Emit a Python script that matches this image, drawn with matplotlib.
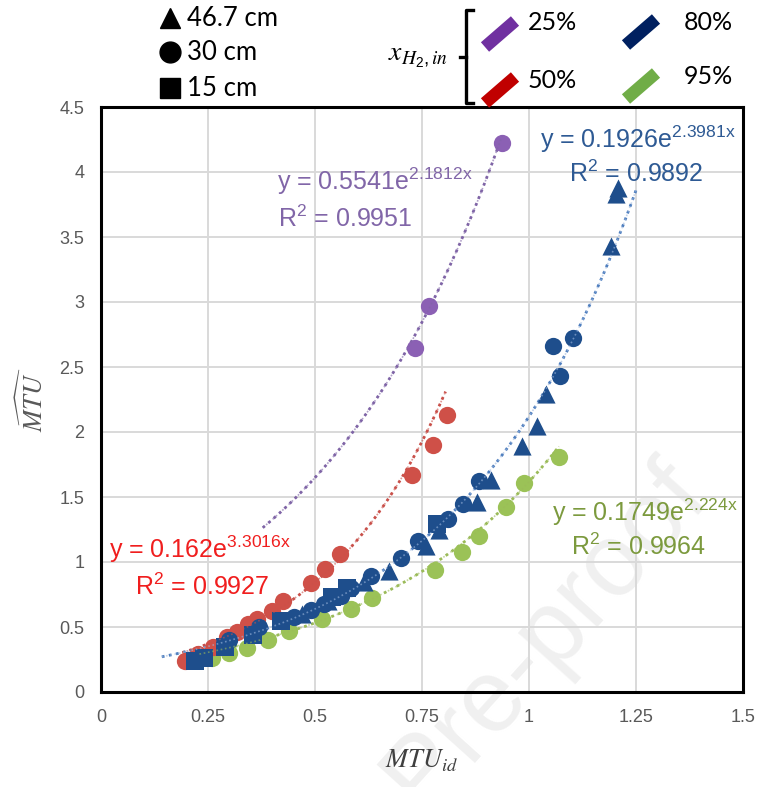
import numpy as np
import matplotlib
matplotlib.use("Agg")
import matplotlib.pyplot as plt
from matplotlib.lines import Line2D

plt.rcParams['font.family'] = ['Liberation Sans', 'DejaVu Sans']
plt.rcParams['mathtext.default'] = 'regular'
plt.rcParams['mathtext.fontset'] = 'stix'

# ==========================================
# data
# ==========================================
# 25 % H2, circles (30 cm)
p25_x = [0.734, 0.766, 0.937]
p25_y = [2.65, 2.97, 4.22]

# 50 % H2, circles
p50_x = [0.196, 0.227, 0.262, 0.294, 0.318, 0.343, 0.364, 0.400, 0.425, 0.491, 0.523, 0.558, 0.727, 0.776, 0.808]
p50_y = [0.24, 0.29, 0.35, 0.42, 0.46, 0.52, 0.56, 0.62, 0.70, 0.84, 0.95, 1.06, 1.67, 1.90, 2.13]

# 80 % H2, three heights
p80_sq_x = [0.22, 0.24, 0.29, 0.355, 0.42, 0.54, 0.575, 0.785]
p80_sq_y = [0.24, 0.26, 0.35, 0.44, 0.55, 0.73, 0.80, 1.29]
p80_ci_x = [0.30, 0.37, 0.45, 0.49, 0.52, 0.56, 0.585, 0.63, 0.70, 0.74, 0.81, 0.846, 0.883, 1.056, 1.072, 1.103]
p80_ci_y = [0.40, 0.50, 0.58, 0.63, 0.68, 0.74, 0.80, 0.89, 1.03, 1.16, 1.33, 1.45, 1.62, 2.66, 2.43, 2.72]
p80_tr_x = [0.47, 0.53, 0.615, 0.672, 0.76, 0.79, 0.879, 0.911, 0.984, 1.019, 1.040, 1.192, 1.203, 1.208]
p80_tr_y = [0.60, 0.70, 0.85, 0.93, 1.12, 1.25, 1.46, 1.63, 1.89, 2.05, 2.29, 3.43, 3.83, 3.88]

# 95 % H2, circles
p95_x = [0.26, 0.30, 0.34, 0.39, 0.44, 0.516, 0.583, 0.633, 0.780, 0.843, 0.883, 0.946, 0.988, 1.07]
p95_y = [0.26, 0.30, 0.34, 0.40, 0.47, 0.56, 0.64, 0.72, 0.94, 1.08, 1.20, 1.42, 1.61, 1.81]

# exponential trend lines y = a*exp(b*x), shown in the chart
fits = {
    '25': (0.5541, 2.1812, 0.378, 0.937),
    '50': (0.162, 3.3016, 0.19, 0.805),
    '80': (0.1926, 2.3981, 0.142, 1.252),
    '95': (0.1749, 2.224, 0.23, 1.07),
}
r2 = {'25': '0.9951', '50': '0.9927', '80': '0.9892', '95': '0.9964'}

pt_col = {'25': '#8B60B4', '50': '#CF5048', '80': '#1E4E8C', '95': '#9BC257'}
ln_col = {'25': '#7F64A6', '50': '#C9504A', '80': '#4F7FBF', '95': '#9BBB59'}
tx_col = {'25': '#8166A8', '50': '#F01E1E', '80': '#2E5A94', '95': '#7C9A3E'}

# ==========================================
# figure
# ==========================================
W, H = 760, 787
fig = plt.figure(figsize=(7.6, 7.87), dpi=100)
ax = fig.add_axes([101 / W, 95 / H, 642 / W, 585 / H])
ax.patch.set_alpha(0)
ax.set_zorder(1)

# faint watermark behind the plot
fig.text(712 / W, 1 - 500 / H, 'Journal Pre-proof', fontsize=74, color='#F0F0F0',
         rotation=48, rotation_mode='anchor', ha='right', va='baseline', zorder=0)

ax.set_xlim(0, 1.5)
ax.set_ylim(0, 4.5)
ax.set_xticks(np.arange(0, 1.51, 0.25))
ax.set_yticks(np.arange(0, 4.51, 0.5))
ax.set_xticklabels(['0', '0.25', '0.5', '0.75', '1', '1.25', '1.5'])
ax.set_yticklabels(['0', '0.5', '1', '1.5', '2', '2.5', '3', '3.5', '4', '4.5'])
ax.tick_params(length=0, labelsize=13, labelcolor='#595959', pad=12)
ax.grid(True, color='#D9D9D9', lw=1.4)
ax.set_axisbelow(True)
for s in ax.spines.values():
    s.set_linewidth(2.2)
    s.set_color('black')

# trend lines
for k, (a, b, x0, x1) in fits.items():
    xx = np.linspace(x0, x1, 200)
    ax.plot(xx, a * np.exp(b * xx), ls=(0, (1, 1.6)), lw=2.0, color=ln_col[k], zorder=2)

ms = 155
ax.scatter(p25_x, p25_y, s=ms, marker='o', color=pt_col['25'], zorder=3, lw=0)
ax.scatter(p95_x, p95_y, s=ms, marker='o', color=pt_col['95'], zorder=3, lw=0)
ax.scatter(p50_x, p50_y, s=ms, marker='o', color=pt_col['50'], zorder=3, lw=0)
ax.scatter(p80_sq_x, p80_sq_y, s=ms, marker='s', color=pt_col['80'], zorder=3, lw=0)
ax.scatter(p80_ci_x, p80_ci_y, s=ms, marker='o', color=pt_col['80'], zorder=3, lw=0)
ax.scatter(p80_tr_x, p80_tr_y, s=ms * 1.1, marker='^', color=pt_col['80'], zorder=3, lw=0)
# dotted fit shows faintly over the markers, as in the source
for k, (a, b, x0, x1) in fits.items():
    xx = np.linspace(x0, x1, 200)
    ax.plot(xx, a * np.exp(b * xx), ls=(0, (1, 1.6)), lw=1.2, color='#9DB7DD' if k == '80' else ln_col[k],
            alpha=0.6, zorder=4)

# equation labels
eq_pos = {
    '25': ((0.64, 3.93), (0.57, 3.64)),
    '50': ((0.232, 1.10), (0.236, 0.81)),
    '80': ((1.255, 4.25), (1.25, 3.99)),
    '95': ((1.27, 1.38), (1.257, 1.12)),
}
exp_txt = {'25': '2.1812x', '50': '3.3016x', '80': '2.3981x', '95': '2.224x'}
for k, ((ex, ey), (rx, ry)) in eq_pos.items():
    a = fits[k][0]
    ax.text(ex, ey, 'y = %se$^{%s}$' % (a, exp_txt[k]), color=tx_col[k], fontsize=18,
            ha='center', va='center', zorder=5)
    ax.text(rx, ry, 'R$^2$ = %s' % r2[k], color=tx_col[k], fontsize=18,
            ha='center', va='center', zorder=5)

ax.set_xlabel(r'$\mathit{MTU}_{\mathit{id}}$', fontsize=19, color='#404040', labelpad=16)
ax.set_ylabel(r'$\widehat{\mathit{MTU}}$', fontsize=19, color='#595959', labelpad=8)

# ==========================================
# legend drawn at the top
# ==========================================
def fx(px):
    return px / W

def fy(py):
    return 1 - py / H

heights = ['46.7 cm', '30 cm', '15 cm']
h_marks = ['^', 'o', 's']
h_rows = [18, 52, 88]
for lab, m, r in zip(heights, h_marks, h_rows):
    fig.add_artist(Line2D([fx(170)], [fy(r)], marker=m, markersize=15, color='black', lw=0))
    fig.text(fx(187), fy(r), lab, fontsize=18.5, family='Lato', va='center', ha='left')

fig.text(fx(418), fy(57), r'$\mathit{x}_{\mathit{H}_2,\mathit{in}}$', fontsize=20, ha='center', va='center')
# bracket
bx = fx(466)
fig.add_artist(Line2D([fx(473), bx, bx, fx(473)], [fy(10), fy(10), fy(103), fy(103)], color='black', lw=2.4))
fig.add_artist(Line2D([bx, fx(460)], [fy(57), fy(57)], color='black', lw=2.4))

fracs = ['25%', '50%', '80%', '95%']
leg_col = ['#7030A0', '#C00000', '#002060', '#70AD47']
leg_xy = [(500, 34), (500, 90), (641, 32), (641, 86)]
txt_xy = [(528, 22), (528, 80), (684, 22), (684, 77)]
for lab, c, (sx, sy), (tx, ty) in zip(fracs, leg_col, leg_xy, txt_xy):
    fig.add_artist(Line2D([fx(sx - 15), fx(sx + 15)], [fy(sy + 13), fy(sy - 13)], color=c, lw=9,
                          solid_capstyle='butt'))
    fig.text(fx(tx), fy(ty), lab, fontsize=18, family='Lato', va='center', ha='left')

fig.savefig('out.png', dpi=100)
